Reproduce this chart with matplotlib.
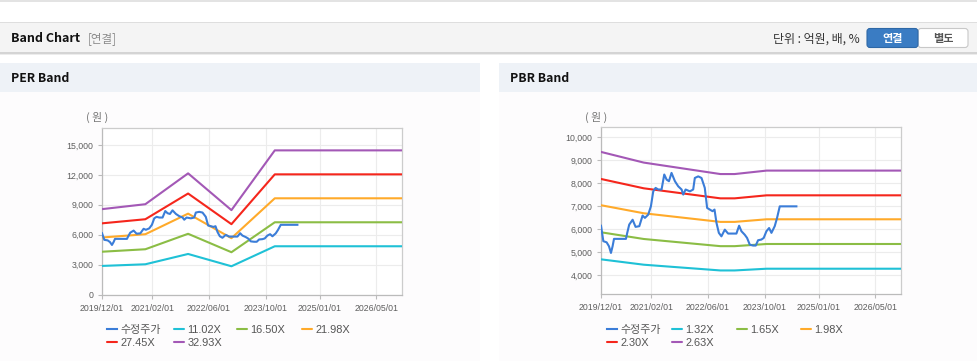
import matplotlib
matplotlib.use('Agg')
import matplotlib.pyplot as plt
import matplotlib.dates as mdates
import matplotlib.ticker as mticker
from matplotlib.patches import Rectangle, FancyBboxPatch
from matplotlib.transforms import IdentityTransform
import pandas as pd

plt.rcParams['font.family'] = ['Liberation Sans', 'Noto Sans CJK KR']

# ---- data ----
# adjusted share price (same series in both panels)
price_dates = ['2019-12-01', '2019-12-21', '2020-01-18', '2020-02-07', '2020-02-24', '2020-03-09',
               '2020-03-21', '2020-05-11', '2020-07-01', '2020-07-12', '2020-07-29', '2020-08-27',
               '2020-09-21', '2020-10-23', '2020-11-20', '2020-12-10', '2021-01-07', '2021-01-30',
               '2021-02-19', '2021-03-11', '2021-04-03', '2021-05-01', '2021-05-24', '2021-06-13',
               '2021-07-03', '2021-07-25', '2021-08-23', '2021-09-20', '2021-10-19', '2021-11-02',
               '2021-11-22', '2021-12-29', '2022-01-26', '2022-02-09', '2022-03-10', '2022-04-07',
               '2022-05-05', '2022-05-25', '2022-06-17', '2022-07-10', '2022-07-27', '2022-08-13',
               '2022-09-02', '2022-09-24', '2022-10-23', '2022-11-20', '2023-01-02', '2023-01-30',
               '2023-02-22', '2023-03-14', '2023-04-11', '2023-05-01', '2023-05-24', '2023-06-21',
               '2023-07-14', '2023-08-03', '2023-08-31', '2023-09-20', '2023-10-13', '2023-11-05',
               '2023-11-25', '2023-12-23', '2024-01-12', '2024-02-04', '2024-03-03', '2024-04-29',
               '2024-06-25']
price = [6150, 5480, 5430, 5260, 4970, 5260, 5580, 5580, 5580, 5840, 6200, 6410, 6100, 6130,
         6590, 6490, 6630, 6990, 7640, 7790, 7720, 7720, 8370, 8150, 8080, 8440, 8080, 7860,
         7720, 7500, 7720, 7640, 7720, 8220, 8290, 8220, 7790, 6920, 6850, 6780, 6850, 6270,
         5840, 5690, 5980, 5810, 5810, 5810, 6150, 5910, 5760, 5620, 5330, 5290, 5290, 5520,
         5550, 5620, 5910, 6050, 5840, 6130, 6490, 6990, 6990, 6990, 6990]

# PER band lines
per_dates = ['2019-12-01', '2020-12-05', '2021-12-05', '2022-12-10', '2023-12-15', '2026-12-05']
per_labels = ['11.02X', '16.50X', '21.98X', '27.45X', '32.93X']
per_1102 = [2865, 3031, 4066, 2832, 4838, 4838]
per_1650 = [4290, 4538, 6089, 4241, 7244, 7244]
per_2198 = [5715, 6045, 8111, 5649, 9649, 9649]
per_2745 = [7137, 7549, 10129, 7055, 12051, 12051]
per_3293 = [8562, 9056, 12151, 8463, 14456, 14456]

# PBR band lines
pbr_dates = ['2019-12-01', '2020-11-30', '2022-09-15', '2023-01-15', '2023-10-15', '2026-12-05']
pbr_labels = ['1.32X', '1.65X', '1.98X', '2.30X', '2.63X']
pbr_132 = [4693, 4460, 4211, 4211, 4286, 4286]
pbr_165 = [5866, 5575, 5264, 5264, 5358, 5358]
pbr_198 = [7039, 6690, 6316, 6316, 6429, 6429]
pbr_230 = [8177, 7772, 7337, 7337, 7468, 7468]
pbr_263 = [9350, 8887, 8390, 8390, 8540, 8540]

x_ticks = ['2019-12-01', '2021-02-01', '2022-06-01', '2023-10-01', '2025-01-01', '2026-05-01']
price_label = '수정주가'

price_color = '#3b7dd8'
band_colors = ['#1fc1d6', '#8bbd45', '#ffaa2a', '#f5261c', '#a358b6']

W, H = 977, 361
fig = plt.figure(figsize=(W / 100, H / 100), dpi=100)
fig.patch.set_facecolor('white')


def fx(x):
    return x / W


def fy(y):
    return 1 - y / H


def box(x0, y0, x1, y1, color, z=-10):
    fig.add_artist(Rectangle((fx(x0), fy(y1)), (x1 - x0) / W, (y1 - y0) / H,
                             transform=fig.transFigure, facecolor=color,
                             edgecolor='none', zorder=z))


# page chrome
box(0, 0, W, 2, '#e3e3e3')
box(0, 22, W, 23.5, '#dedede')
box(0, 23.5, W, 52, '#f4f4f4')
box(0, 52, W, 54, '#d4d4d4')
box(0, 54, W, 55, '#ececec')
box(0, 63, 480, 92, '#eef2f7')
box(0, 92, 480, H, '#fdfcfd')
box(499, 63, W, 92, '#eef2f7')
box(499, 92, W, H, '#fdfcfd')

fig.text(fx(11), fy(39), 'Band Chart', fontsize=9, fontweight='bold',
         family='Noto Sans CJK KR', va='center', ha='left', color='#111')
fig.text(fx(88), fy(39), '[연결]', fontsize=8.3, family='Noto Sans CJK KR',
         va='center', ha='left', color='#8a8a8a')
fig.text(fx(860), fy(39), '단위 : 억원, 배, %', fontsize=8.6, family='Noto Sans CJK KR',
         va='center', ha='right', color='#333')

# buttons (pixel coordinates, origin bottom-left)
fig.add_artist(FancyBboxPatch((867, H - 47.5), 51, 19, boxstyle='round,pad=0,rounding_size=3',
                              transform=IdentityTransform(), facecolor='#3a7cc3',
                              edgecolor='#2e68a6', lw=0.8, zorder=2))
fig.add_artist(FancyBboxPatch((918, H - 47.5), 50, 19, boxstyle='round,pad=0,rounding_size=3',
                              transform=IdentityTransform(), facecolor='white',
                              edgecolor='#c8c8c8', lw=0.8, zorder=1))
fig.text(fx(892.5), fy(38.5), '연결', fontsize=8, fontweight='bold', family='Noto Sans CJK KR',
         va='center', ha='center', color='white')
fig.text(fx(943), fy(38.5), '별도', fontsize=8, fontweight='bold', family='Noto Sans CJK KR',
         va='center', ha='center', color='#555')

fig.text(fx(11), fy(78.5), 'PER Band', fontsize=8.8, fontweight='bold',
         family='Noto Sans CJK KR', va='center', ha='left', color='#111')
fig.text(fx(510), fy(78.5), 'PBR Band', fontsize=8.8, fontweight='bold',
         family='Noto Sans CJK KR', va='center', ha='left', color='#111')


def make_panel(rect, band_dates, bands, labels, ylim, yticks, unit_x, leg_x):
    ax = fig.add_axes(rect)
    ax.set_facecolor('white')
    xd = pd.to_datetime(band_dates)
    band_lines = []
    for vals, col in zip(bands, band_colors):
        ln, = ax.plot(xd, vals, color=col, lw=1.5, solid_capstyle='round', zorder=3)
        band_lines.append(ln)
    pl, = ax.plot(pd.to_datetime(price_dates), price, color=price_color, lw=1.5, zorder=4)

    ax.set_xlim(pd.Timestamp('2019-12-01'), pd.Timestamp('2026-12-05'))
    ax.set_ylim(*ylim)
    ax.set_xticks(pd.to_datetime(x_ticks))
    ax.xaxis.set_major_formatter(mdates.DateFormatter('%Y/%m/%d'))
    ax.set_yticks(yticks)
    ax.yaxis.set_major_formatter(mticker.FuncFormatter(lambda v, p: f'{v:,.0f}'))
    ax.tick_params(axis='both', labelsize=6.3, labelcolor='#5e5e5e', color='#bbb',
                   length=3, width=0.8)
    ax.tick_params(axis='x', pad=3.5)
    ax.tick_params(axis='y', pad=3.2)
    ax.grid(True, color='#ececec', lw=0.8)
    ax.set_axisbelow(True)
    for s in ax.spines.values():
        s.set_color('#cccccc')
        s.set_linewidth(0.9)
    ax.spines['left'].set_color('#bbbbbb')
    ax.spines['bottom'].set_color('#bbbbbb')

    fig.text(fx(unit_x), fy(117), '( 원 )', fontsize=7.8, family='Noto Sans CJK KR',
             va='center', ha='center', color='#777')

    # legend: one entry at a time, two rows
    handles = [pl] + band_lines
    texts = [price_label] + labels
    slots = [(0, 0), (1, 0), (2, 0), (3, 0), (0, 1), (1, 1)]
    for h, t, (c, r) in zip(handles, texts, slots):
        leg = ax.legend([h], [t], loc='center left',
                        bbox_to_anchor=(fx(leg_x[c]), fy(330 + 13 * r)),
                        bbox_transform=fig.transFigure, frameon=False,
                        fontsize=7.9, handlelength=0.9, handletextpad=0.33,
                        borderpad=0, borderaxespad=0, labelcolor='#555')
        leg.set_zorder(5)
        ax.add_artist(leg)
    ax.legend_ = None
    return ax


make_panel([fx(102), fy(294.5), 300 / W, 166.5 / H], per_dates,
           [per_1102, per_1650, per_2198, per_2745, per_3293], per_labels,
           (0, 16700), [0, 3000, 6000, 9000, 12000, 15000], 97, [107, 174, 237, 302])

make_panel([fx(601), fy(294), 300 / W, 167 / H], pbr_dates,
           [pbr_132, pbr_165, pbr_198, pbr_230, pbr_263], pbr_labels,
           (3190, 10430), [4000, 5000, 6000, 7000, 8000, 9000, 10000], 596, [607, 672, 737, 801])

fig.savefig('out.png', dpi=100)
